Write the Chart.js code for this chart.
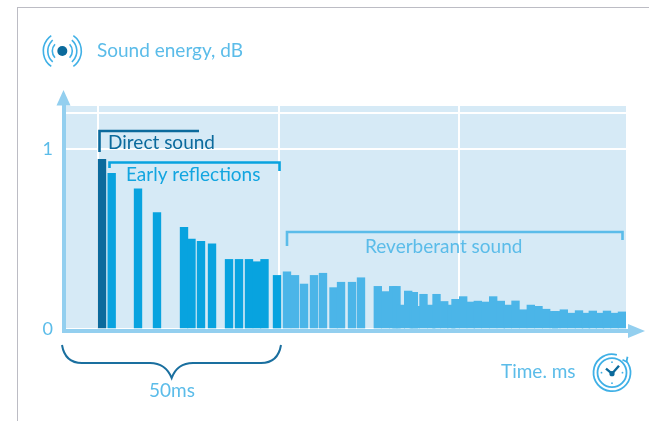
<!DOCTYPE html>
<html lang="en">
<head>
    <meta charset="UTF-8">
    <title>Sound energy over time</title>
    <script src="https://cdn.jsdelivr.net/npm/chart.js"></script>
    <style>
        html, body { margin: 0; padding: 0; background: #fff; overflow: hidden; }
        canvas { position: absolute; left: 0; top: 0; }
        .frame { position: absolute; left: 17px; top: 7px; right: 0; bottom: 0; border-left: 1px solid #bcbcc4; border-top: 1px solid #bcbcc4; }
    </style>
</head>
<body>
    <div class="frame"></div>
    <canvas id="chart" width="649" height="421"></canvas>

    <script>
        // values: time in ms, energy relative to the direct sound
        const directTimes = [8.79];
        const directEnergy = [0.944];

        const earlyTimes = [11.03, 17.12, 21.51, 27.76, 29.49, 31.69, 34.24, 38.17, 40.48, 42.79, 44.64, 46.38, 49.27];
        const earlyEnergy = [0.866, 0.78, 0.648, 0.566, 0.5, 0.488, 0.473, 0.387, 0.387, 0.387, 0.374, 0.387, 0.298];

        const reverbTimes = [51.58, 53.43, 55.52, 57.83, 59.91, 62.34, 64.08, 66.62, 68.7,
            72.59, 74.37, 76.15, 76.91, 77.91, 79.62, 80.92, 81.38, 83.16, 84.94, 86.17, 87.95, 89.57, 90.56,
            92.34, 94.1, 95.72, 97.5, 99.28, 101.04, 102.66, 104.44, 106.22, 107.98, 109.76, 111.54, 113.3,
            113.86, 115.62, 117.4, 119.13, 120.75, 122.32, 123.98, 125.6, 127.34, 129.07];
        const reverbEnergy = [0.318, 0.298, 0.25, 0.298, 0.31, 0.23, 0.26, 0.26, 0.285,
            0.237, 0.208, 0.237, 0.237, 0.133, 0.211, 0.204, 0.126, 0.193, 0.133, 0.193, 0.153, 0.133, 0.165,
            0.18, 0.15, 0.155, 0.15, 0.18, 0.155, 0.133, 0.156, 0.107, 0.133, 0.126, 0.11, 0.098,
            0.098, 0.107, 0.088, 0.102, 0.088, 0.1, 0.088, 0.1, 0.088, 0.095];

        const xGridTimes = [7.9, 49.7, 91.4];
        const yGridValues = [0, 1, 1.2];
        const yTickLabels = ['0', '1', ''];

        const FONT = 'Lato, "Open Sans", sans-serif';
        const DARK = '#0b6a9c';
        const MID = '#08a3df';
        const LIGHT = '#4bb5e8';
        const AXIS = '#93cfef';

        function points(xs, ys) {
            return xs.map((x, i) => ({ x: x, y: ys[i] }));
        }

        function line(ctx, pts, color, width) {
            ctx.strokeStyle = color;
            ctx.lineWidth = width;
            ctx.beginPath();
            pts.forEach((p, i) => i ? ctx.lineTo(p[0], p[1]) : ctx.moveTo(p[0], p[1]));
            ctx.stroke();
        }

        function label(ctx, text, x, y, color, align) {
            ctx.font = '19px ' + FONT;
            ctx.fillStyle = color;
            ctx.textAlign = align || 'left';
            ctx.textBaseline = 'middle';
            ctx.fillText(text, x, y);
        }

        function soundIcon(ctx, cx, cy) {
            ctx.fillStyle = DARK;
            ctx.beginPath();
            ctx.arc(cx, cy, 5, 0, Math.PI * 2);
            ctx.fill();
            ctx.strokeStyle = '#3fb0e6';
            ctx.lineWidth = 1.6;
            [[10, 0.75], [14.5, 0.85], [19, 0.95]].forEach(a => {
                ctx.beginPath();
                ctx.arc(cx, cy, a[0], -a[1], a[1]);
                ctx.stroke();
                ctx.beginPath();
                ctx.arc(cx, cy, a[0], Math.PI - a[1], Math.PI + a[1]);
                ctx.stroke();
            });
        }

        function clockIcon(ctx, cx, cy) {
            ctx.strokeStyle = '#3fb0e6';
            ctx.lineWidth = 1.8;
            ctx.beginPath();
            ctx.arc(cx, cy, 18.5, -0.7, 4.98);
            ctx.stroke();
            ctx.beginPath();
            ctx.arc(cx, cy, 14.5, 0, Math.PI * 2);
            ctx.stroke();
            // little arrow where the outer ring ends
            line(ctx, [[cx + 10.5, cy - 13], [cx + 14.5, cy - 11], [cx + 15.5, cy - 16]], '#3fb0e6', 1.8);
            ctx.fillStyle = '#3fb0e6';
            [0, 1, 2, 3].forEach(i => {
                const a = i * Math.PI / 2;
                ctx.beginPath();
                ctx.arc(cx + Math.cos(a) * 10.5, cy + Math.sin(a) * 10.5, 0.9, 0, Math.PI * 2);
                ctx.fill();
            });
            line(ctx, [[cx - 6, cy - 4], [cx, cy + 1], [cx + 7, cy - 7]], DARK, 2.4);
            ctx.fillStyle = DARK;
            ctx.beginPath();
            ctx.arc(cx, cy + 1, 2.6, 0, Math.PI * 2);
            ctx.fill();
        }

        const panelPlugin = {
            id: 'panel',
            beforeDraw(chart) {
                const a = chart.chartArea, ctx = chart.ctx;
                ctx.save();
                ctx.fillStyle = '#d6eaf6';
                ctx.fillRect(a.left, a.top, a.right - a.left, a.bottom - a.top);
                ctx.restore();
            }
        };

        const decorPlugin = {
            id: 'decor',
            afterDraw(chart) {
                const ctx = chart.ctx;
                ctx.save();

                // axes with arrow heads
                ctx.fillStyle = AXIS;
                ctx.fillRect(62, 104, 4, 229);
                ctx.fillRect(62, 329, 567, 4);
                ctx.beginPath();
                ctx.moveTo(63.5, 90); ctx.lineTo(70.5, 105.5); ctx.lineTo(56.5, 105.5);
                ctx.closePath();
                ctx.fill();
                ctx.beginPath();
                ctx.moveTo(645, 331); ctx.lineTo(628, 324); ctx.lineTo(628, 338);
                ctx.closePath();
                ctx.fill();

                // brackets
                line(ctx, [[99.5, 152], [99.5, 131], [199, 131]], DARK, 2.6);
                line(ctx, [[109.5, 168], [109.5, 162.5], [279.5, 162.5], [279.5, 171]], MID, 2.6);
                line(ctx, [[287, 246], [287, 232], [622.5, 232], [622.5, 240]], '#5bbce9', 2.6);

                label(ctx, 'Direct sound', 108, 143, DARK);
                label(ctx, 'Early reflections', 126, 175, '#12a5e0');
                label(ctx, 'Reverberant sound', 365, 247, '#5bbce9');
                label(ctx, 'Sound energy, dB', 97, 51, '#5bbce9');
                label(ctx, 'Time. ms', 501, 372, '#5bbce9');
                label(ctx, '50ms', 172, 391, '#5bbce9', 'center');

                // 50ms brace
                ctx.strokeStyle = '#1a6f9f';
                ctx.lineWidth = 2;
                ctx.beginPath();
                ctx.moveTo(62, 345);
                ctx.bezierCurveTo(64, 357, 71, 363, 82, 363);
                ctx.lineTo(150, 363);
                ctx.bezierCurveTo(161, 363, 168, 369, 171.7, 378);
                ctx.bezierCurveTo(175, 369, 182, 363, 193, 363);
                ctx.lineTo(261, 363);
                ctx.bezierCurveTo(272, 363, 279, 357, 281, 345);
                ctx.stroke();

                soundIcon(ctx, 62.3, 51);
                clockIcon(ctx, 612, 372.7);
                ctx.restore();
            }
        };

        new Chart(document.getElementById('chart').getContext('2d'), {
            type: 'bar',
            data: {
                datasets: [
                    { label: 'Direct sound', data: points(directTimes, directEnergy), backgroundColor: DARK },
                    { label: 'Early reflections', data: points(earlyTimes, earlyEnergy), backgroundColor: MID },
                    { label: 'Reverberant sound', data: points(reverbTimes, reverbEnergy), backgroundColor: LIGHT }
                ]
            },
            options: {
                responsive: false,
                animation: false,
                devicePixelRatio: 1,
                layout: { padding: { top: 106, right: 23, left: 0, bottom: 0 } },
                datasets: { bar: { barThickness: 7.7, grouped: false } },
                plugins: { legend: { display: false }, tooltip: { enabled: false }, title: { display: false } },
                scales: {
                    x: {
                        type: 'linear',
                        offset: false,
                        min: 0,
                        max: 130,
                        afterFit: s => { s.height = 92; },
                        afterBuildTicks: s => { s.ticks = xGridTimes.map(v => ({ value: v })); },
                        ticks: { display: false },
                        border: { display: false },
                        grid: { color: '#ffffff', lineWidth: 2, drawTicks: false, offset: false }
                    },
                    y: {
                        min: 0,
                        max: 1.24,
                        afterFit: s => { s.width = 64; },
                        afterBuildTicks: s => { s.ticks = yGridValues.map(v => ({ value: v })); },
                        ticks: {
                            padding: 11,
                            color: '#5bbce9',
                            font: { family: FONT, size: 18 },
                            callback: v => yTickLabels[yGridValues.indexOf(v)]
                        },
                        border: { display: false },
                        grid: { color: '#ffffff', lineWidth: 2, drawTicks: false }
                    }
                }
            },
            plugins: [panelPlugin, decorPlugin]
        });
    </script>
</body>
</html>
